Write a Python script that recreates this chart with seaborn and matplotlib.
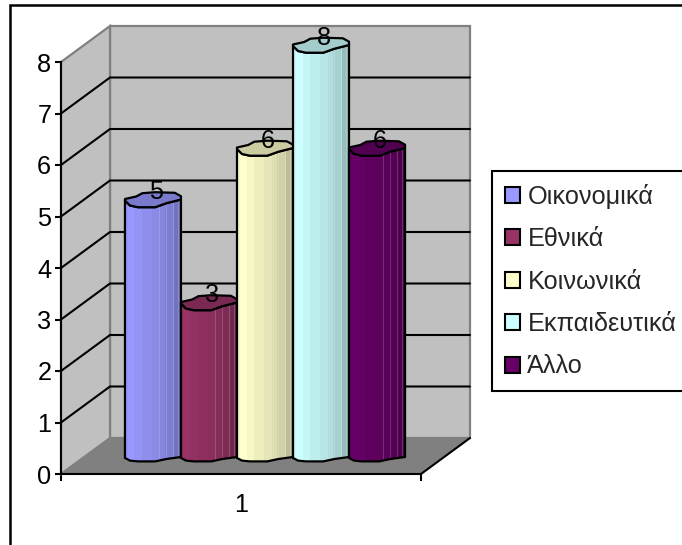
import numpy as np
import pandas as pd
import matplotlib
matplotlib.use("Agg")
import matplotlib.pyplot as plt
from matplotlib.patches import Polygon, Rectangle, Patch
from matplotlib.colors import to_rgb
import seaborn as sns

categories = ["Οικονομικά", "Εθνικά", "Κοινωνικά", "Εκπαιδευτικά", "Άλλο"]
values = [5, 3, 6, 8, 6]
colors = ["#9999FF", "#993366", "#FFFFCC", "#CCFFFF", "#660066"]
group_label = "1"
y_ticks = list(range(9))

W, H = 682, 545
sns.set_theme(style="white")
plt.rcParams["font.family"] = ["Liberation Sans", "DejaVu Sans"]
FS = 18.2

fig = plt.figure(figsize=(W / 100, H / 100), dpi=100, facecolor="white")
PX0, PX1, PY0, PY8 = 61, 421, 474, 62
ax = fig.add_axes([PX0 / W, 1 - PY0 / H, (PX1 - PX0) / W, (PY0 - PY8) / H])
ax.patch.set_visible(False)
ppx = PX1 - PX0
ppy = (PY0 - PY8) / 8
DX, DY = 49 / ppx, 36 / ppy        # depth of the box, in data units
BX, BY = 24 / ppx, 16 / ppy        # depth of the bars, in data units

df = pd.DataFrame({"group": [group_label] * len(values), "series": categories, "value": values})
sns.barplot(data=df, x="group", y="value", hue="series", hue_order=categories,
            palette=colors, width=0.778, gap=0, saturation=1, legend=False, ax=ax)
ax.set_xlim(-0.5, 0.5)
ax.set_ylim(0, 8)
ax.set_xlabel("")
ax.set_ylabel("")

# box
GRAY, WALL = "#808080", "#C0C0C0"
ax.add_patch(Rectangle((-0.5 + DX, DY), 1, 8, fc=WALL, ec=GRAY, lw=1.6, zorder=1, clip_on=False))
ax.add_patch(Polygon([(-0.5, 0), (-0.5, 8), (-0.5 + DX, 8 + DY), (-0.5 + DX, DY)],
                     fc=WALL, ec=GRAY, lw=1.6, zorder=1, clip_on=False))
ax.add_patch(Polygon([(-0.5, 0), (0.5, 0), (0.5 + DX, DY), (-0.5 + DX, DY)],
                     fc=GRAY, ec="none", zorder=1.5, clip_on=False))
ax.plot([0.5, 0.5 + DX], [0, DY], color="black", lw=1.5, zorder=1.6, clip_on=False)
for k in y_ticks[1:-1]:
    ax.plot([-0.5, -0.5 + DX, 0.5 + DX], [k, k + DY, k + DY], color="black", lw=1.5,
            zorder=2, clip_on=False, solid_joinstyle="miter")

# cylinder look: low-poly outline and stepped shading
front_u = np.array([0, .09, .23, .54, .74, 1.0])
front_dy = np.array([0, 5, 6.7, 6.7, 2.7, -1.0]) / ppy
base_dy = np.array([0, 2.6, 3.4, 3.4, 1.0, -1.0]) / ppy
back_u = np.array([1.0, .89, .54, .31, .20, 0])
back_dy = np.array([-4.3, -7.7, -8.3, -7.3, -4.0, -1.5]) / ppy
strip_u = np.array([0, .06, .17, .31, .48, .60, .71, .88, 1.0])
strip_k = np.array([.97, 1.0, .97, .93, .90, .87, .82, .74])
seam_u = [.60, .73, .85, .95]

for i, (cont, val, col) in enumerate(zip(ax.containers, values, colors)):
    p = cont[0]
    z = 3 + i
    x0, w = p.get_x() + BX, p.get_width()
    p.set_x(x0)
    p.set_y(BY)
    p.set_linewidth(0)
    p.set_zorder(z)
    top = val + BY
    fx = x0 + front_u * w
    bx = x0 + back_u * w
    body = np.vstack([np.c_[fx, BY - base_dy], np.c_[fx[::-1], top - front_dy[::-1]]])
    outline = Polygon(body, closed=True, fc="none", ec="black", lw=1.6, zorder=z + 0.3,
                      clip_on=False, joinstyle="round")
    ax.add_patch(outline)
    rgb = np.array(to_rgb(col))
    shades = np.clip(strip_k[None, :, None] * rgb, 0, 1)
    mesh = ax.pcolormesh(x0 + strip_u * w, [BY - 12 / ppy, top + 6 / ppy], shades,
                         zorder=z + 0.1, shading="flat", linewidth=0)
    mesh.set_clip_box(None)
    mesh.set_clip_path(outline)
    p.set_clip_box(None)
    p.set_clip_path(outline)
    for u in seam_u:
        ln, = ax.plot([x0 + u * w] * 2, [BY - 6 / ppy, top], color=(1, 1, 1), alpha=0.18, lw=0.8,
                      zorder=z + 0.15)
        ln.set_clip_box(None)
        ln.set_clip_path(outline)
    cap = np.vstack([np.c_[fx, top - front_dy], np.c_[bx, top - back_dy]])
    ax.add_patch(Polygon(cap, closed=True, fc=tuple(rgb * 0.8), ec="black", lw=1.6,
                         zorder=z + 0.4, clip_on=False, joinstyle="round"))
    ax.annotate(str(val), xy=(x0 + w / 2, top), xytext=(2, 6), textcoords="offset points",
                ha="center", va="center", fontsize=FS, color="black", zorder=20,
                annotation_clip=False)

# axes
for s in ("top", "right"):
    ax.spines[s].set_visible(False)
for s in ("left", "bottom"):
    ax.spines[s].set_visible(True)
    ax.spines[s].set_color("black")
    ax.spines[s].set_linewidth(1.5)
    ax.spines[s].set_zorder(2.5)
ax.set_yticks(y_ticks)
ax.set_xticks([-0.5, 0.5], ["", ""])
ax.set_xticks([0], [group_label], minor=True)
ax.tick_params(axis="y", which="major", direction="out", length=4, width=1.5, color="black",
               labelsize=FS, labelcolor="black", pad=3, left=True)
ax.tick_params(axis="x", which="major", direction="out", length=5, width=1.5, color="black", bottom=True)
ax.tick_params(axis="x", which="minor", length=0, labelsize=FS, labelcolor="black", pad=14)

# legend
handles = [Patch(fc=c, ec="black", lw=1.5, label=n) for c, n in zip(colors, categories)]
leg = fig.legend(handles=handles, loc="upper left", bbox_to_anchor=(492 / W, 1 - 171 / H),
                 fontsize=FS, frameon=True, fancybox=False, framealpha=1, edgecolor="black",
                 handlelength=0.6, handleheight=0.6, handletextpad=0.3, borderpad=0.5,
                 labelspacing=0.73, borderaxespad=0)
leg.get_frame().set_linewidth(1.5)

# chart-area frame
fig.add_artist(Rectangle((10 / W, -0.05), 1.1, 1 - 5 / H + 0.05, transform=fig.transFigure,
                         fc="none", ec="black", lw=1.8))

fig.savefig("out.png", dpi=100)
